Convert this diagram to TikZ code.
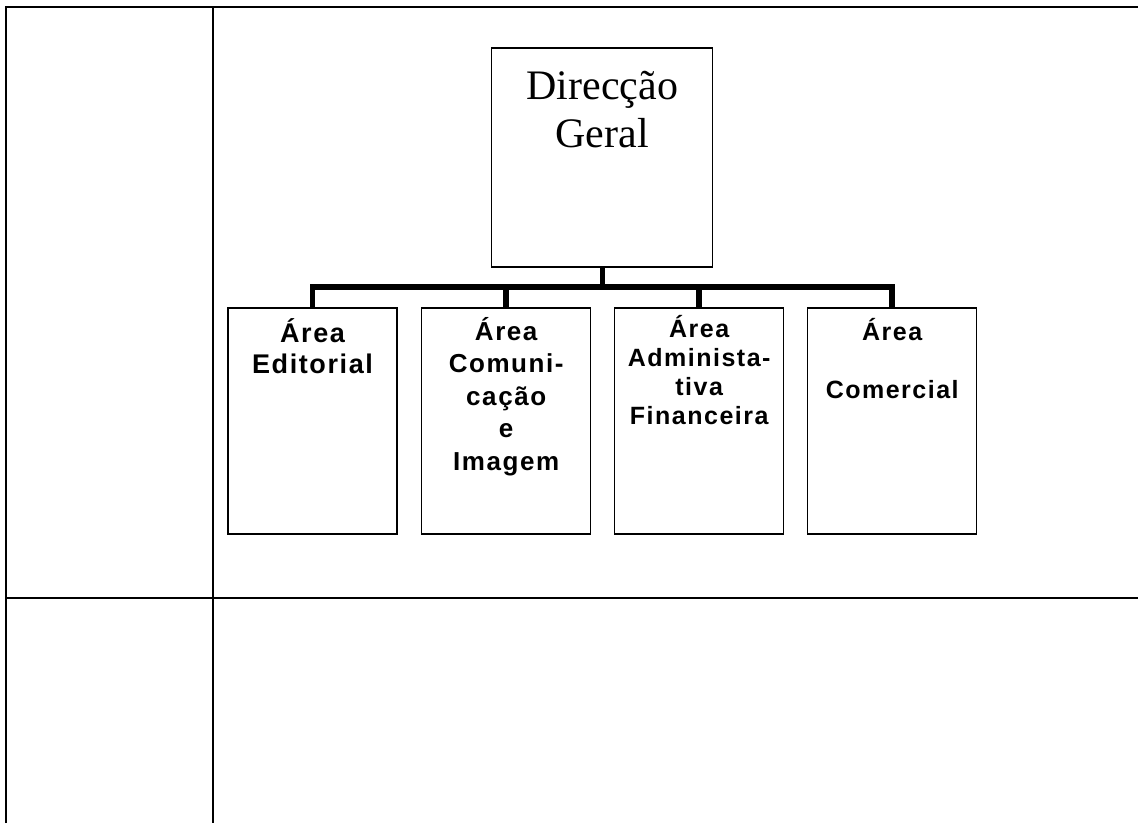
\documentclass[tikz,border=0pt]{standalone}
\usepackage{fontspec}
\setmainfont{Liberation Serif}
\newfontfamily\areafont{Liberation Sans Bold}[LetterSpace=6]
\usetikzlibrary{positioning}

\begin{document}
\begin{tikzpicture}[x=1pt, y=-1pt,
        grid/.style={line width=2pt},
        box/.style={draw, line width=1.3pt, inner sep=0pt,
                    minimum width=169pt, minimum height=226pt},
        bus/.style={line width=5.5pt},
        lbl/.style={anchor=north, inner sep=0pt, align=center,
                    font={\areafont\fontsize{27}{31}\selectfont}}
      ]
        \useasboundingbox (0,0) rectangle (1138,823);

        % table lines
        \draw[grid] (6,823) -- (6,6.5) -- (1138,6.5);
        \draw[grid] (213,6.5) -- (213,823);
        \draw[grid] (6,598) -- (1138,598);

        % boxes
        \node[box, minimum width=221pt, minimum height=219pt] (dg) at (602.3,157.5) {};
        \node[box] (ed) at (312.5,421) {};
        \node[box] (ci) at (506.2,421) {};
        \node[box] (af) at (699.2,421) {};
        \node[box] (cm) at (892.2,421) {};

        % texts
        \node[anchor=north, inner sep=0pt, align=center,
              font={\fontsize{42}{48}\selectfont}] (dg-t) at (602.3,71) {Direcção\\Geral};
        \node[lbl] (ed-t) at (312.5,318) {Área\\Editorial};
        \node[lbl, font={\areafont\fontsize{26}{32.5}\selectfont}] (ci-t) at (506.2,317) {Área\\Comuni-\\cação\\e\\Imagem};
        \node[lbl, font={\areafont\fontsize{25}{29}\selectfont}] (af-t) at (699.2,315) {Área\\Administa-\\tiva\\Financeira};
        \node[lbl, font={\areafont\fontsize{25}{29}\selectfont}] (cm-t) at (892.2,318) {Área\\[29pt]Comercial};

        % connectors
        \draw[bus] (dg.south) -- ++(0,21.5);
        \draw[bus] (ed.north) -- ++(0,-20.3) -| (cm.north);
        \draw[bus] (ci.north) -- ++(0,-20.3);
        \draw[bus] (af.north) -- ++(0,-20.3);
      \end{tikzpicture}
\end{document}
